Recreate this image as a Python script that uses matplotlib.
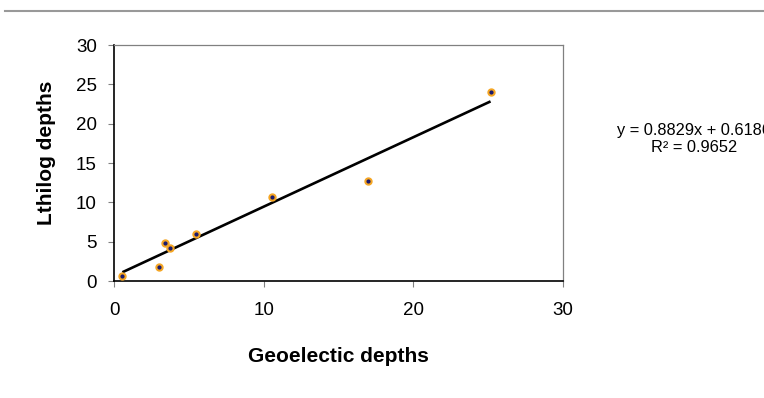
import matplotlib
matplotlib.use("Agg")
import matplotlib.pyplot as plt
from matplotlib.lines import Line2D
import numpy as np

plt.rcParams['font.family'] = ['Liberation Sans', 'DejaVu Sans']

geo = [0.56, 3.03, 3.38, 3.76, 5.45, 10.53, 16.97, 25.16]
litho = [0.68, 1.78, 4.87, 4.19, 5.93, 10.67, 12.75, 23.98]
slope, intercept = 0.8829, 0.6186
r2 = 0.9652
ticks_x = [0, 10, 20, 30]
ticks_y = [0, 5, 10, 15, 20, 25, 30]

fig = plt.figure(figsize=(7.64, 3.98), dpi=100)
ax = fig.add_axes([114/764, 1-281/398, (563-114)/764, (281-45)/398])

xs = np.array([min(geo), max(geo)])
ax.plot(xs, slope*xs + intercept, color='black', lw=1.9, solid_capstyle='butt', zorder=2)
ax.plot(geo, litho, 'o', ms=5, color='#f5a623', mec='#f5a623', zorder=3)
ax.plot(geo, litho, 'o', ms=2, color='#1a1a6e', mec='#1a1a6e', zorder=4)

ax.set_xlim(0, 30)
ax.set_ylim(0, 30)
ax.set_xticks(ticks_x)
ax.set_yticks(ticks_y)
ax.tick_params(axis='both', labelsize=13.5, length=4.3, width=0.8, color='#808080')
ax.tick_params(axis='x', pad=11)
ax.tick_params(axis='y', pad=8)

for s in ['left', 'bottom']:
    ax.spines[s].set_color('black')
    ax.spines[s].set_linewidth(1.2)
for s in ['top', 'right']:
    ax.spines[s].set_color('#808080')
    ax.spines[s].set_linewidth(0.9)

ax.set_xlabel('Geoelectic depths', fontsize=15, fontweight='bold', va='center')
ax.xaxis.set_label_coords((338-114)/449, (281-356)/236)
ax.set_ylabel('Lthilog depths', fontsize=15, fontweight='bold', va='center')
ax.yaxis.set_label_coords((46-114)/449, (281-153)/236)

fig.text(694/764, 1-135/398, f'y = {slope}x + {intercept}', fontsize=11.8,
         ha='center', va='baseline')
fig.text(694/764, 1-152/398, f'R² = {r2}', fontsize=11.8, ha='center', va='baseline')

fig.add_artist(Line2D([5/764, 1], [1-10.5/398, 1-10.5/398], color='#999999', lw=1.5,
                      transform=fig.transFigure))

fig.savefig('out.png', dpi=100)
